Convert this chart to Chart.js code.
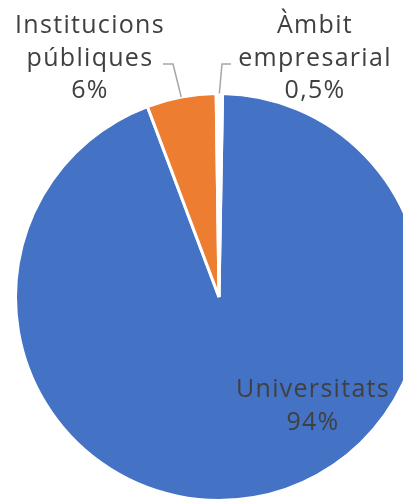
<!DOCTYPE html>
<html>
<head>
<meta charset="utf-8">
<script src="https://cdn.jsdelivr.net/npm/chart.js@4"></script>
<style>
  body { margin: 0; overflow: hidden; background: #fff; }
  #wrap { width: 438px; height: 502px; }
</style>
</head>
<body>
<div id="wrap"><canvas id="pie" width="438" height="502"></canvas></div>
<script>
// chart data
const categories = ['Universitats', 'Institucions públiques', 'Àmbit empresarial'];
const shares = [94, 5.5, 0.5];
const shareLabels = ['94%', '6%', '0,5%'];
const colors = ['#4472C4', '#ED7D31', '#FFFFFF'];

// label lines for each slice (category name split across lines + value)
const labelLines = [
    ['Universitats', shareLabels[0]],
    ['Institucions', 'públiques', shareLabels[1]],
    ['Àmbit', 'empresarial', shareLabels[2]]
];

// where each label sits, and the elbow of its leader line (null = inside slice)
const labelSpots = [
    { x: 313, y: 397, leader: null },
    { x: 90, y: 33, leader: [[163, 64], [173, 64]] },
    { x: 315, y: 33, leader: [[231, 64], [222, 64]] }
];

const pieLabels = {
    id: 'pieLabels',
    afterDraw(chart) {
        const ctx = chart.ctx;
        const arcs = chart.getDatasetMeta(0).data;
        ctx.save();
        ctx.font = '25px "Open Sans", sans-serif';
        ctx.letterSpacing = '1.3px';
        ctx.fillStyle = '#404040';
        ctx.textAlign = 'center';
        ctx.textBaseline = 'alphabetic';
        labelSpots.forEach((spot, i) => {
            labelLines[i].forEach((txt, j) => {
                ctx.fillText(txt, spot.x, spot.y + j * 32.5);
            });
            if (spot.leader) {
                const arc = arcs[i];
                const mid = (arc.startAngle + arc.endAngle) / 2;
                const ex = arc.x + Math.cos(mid) * arc.outerRadius;
                const ey = arc.y + Math.sin(mid) * arc.outerRadius;
                ctx.strokeStyle = '#A6A6A6';
                ctx.lineWidth = 1.5;
                ctx.beginPath();
                ctx.moveTo(spot.leader[0][0], spot.leader[0][1]);
                ctx.lineTo(spot.leader[1][0], spot.leader[1][1]);
                ctx.lineTo(ex, ey);
                ctx.stroke();
            }
        });
        ctx.restore();
    }
};

new Chart(document.getElementById('pie'), {
    type: 'pie',
    data: {
        labels: categories,
        datasets: [{
            data: shares,
            backgroundColor: colors,
            borderColor: '#FFFFFF',
            borderWidth: 3
        }]
    },
    options: {
        responsive: false,
        animation: false,
        rotation: 1,
        layout: { padding: { top: 92, bottom: 0, left: 0, right: 0 } },
        plugins: {
            legend: { display: false },
            tooltip: { enabled: false }
        }
    },
    plugins: [pieLabels]
});
</script>
</body>
</html>
